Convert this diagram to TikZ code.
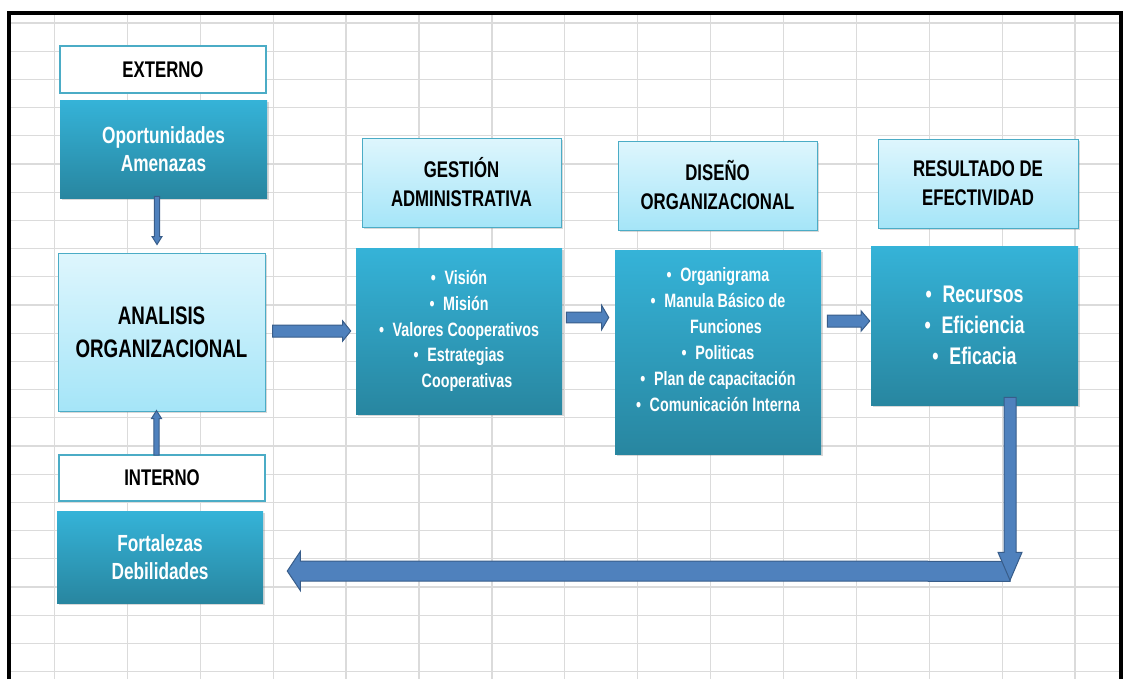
\documentclass[tikz,border=0pt]{standalone}
\usepackage{fontspec}
\setmainfont{Liberation Sans}[FakeStretch=0.74]
\usetikzlibrary{calc}
\usetikzlibrary{shadows}

% block arrow: tail, tip, half shaft, half head, head length
\newcommand{\blockarrow}[5]{%
  \coordinate (ba-base) at ($(#2)!#5!(#1)$);
  \filldraw[arrowbody] ($(#1)!#3!90:(#2)$) -- ($(ba-base)!#3!-90:(#1)$) -- ($(ba-base)!#4!-90:(#1)$) -- (#2)
    -- ($(ba-base)!#4!90:(#1)$) -- ($(ba-base)!#3!90:(#1)$) -- ($(#1)!#3!-90:(#2)$) -- cycle;
}

\begin{document}
\begin{tikzpicture}[line cap=butt,line join=miter,x=0.75pt,y=-0.75pt]
\definecolor{gridgray}{rgb}{0.86,0.86,0.86}
\definecolor{tealtop}{RGB}{53,179,216}
\definecolor{tealbot}{RGB}{40,134,160}
\definecolor{paletop}{RGB}{222,246,253}
\definecolor{palebot}{RGB}{165,229,248}
\definecolor{tealline}{RGB}{75,172,198}
\definecolor{arrowfill}{RGB}{79,129,189}
\definecolor{arrowline}{RGB}{56,93,138}
\tikzset{
  gridline/.style={color=gridgray,line width=1pt},
  boxshadow/.style={drop shadow={shadow xshift=1.2pt,shadow yshift=-1.8pt,opacity=0.3}},
  darkbox/.style={top color=tealtop,bottom color=tealbot,draw=none,text=white,align=center,inner sep=0pt,boxshadow},
  palebox/.style={top color=paletop,bottom color=palebot,draw=tealline,line width=0.75pt,align=center,inner sep=0pt,boxshadow},
  whitebox/.style={fill=white,draw=tealline,line width=1.5pt,align=center,inner sep=0pt},
  headtext/.style={font=\fontsize{17}{21.75}\selectfont\bfseries},
  sidetext/.style={font=\fontsize{17.5}{21}\selectfont\bfseries},
  bigtext/.style={font=\fontsize{19}{24.75}\selectfont\bfseries},
  listtext/.style={font=\fontsize{14.5}{19.4}\selectfont\bfseries},
  restext/.style={font=\fontsize{18}{23.25}\selectfont\bfseries},
  arrowbody/.style={fill=arrowfill,draw=arrowline,line width=0.75pt}
}
\useasboundingbox (0,0) rectangle (1123,679);
\fill[white] (0,0) rectangle (1123,679);
% sheet grid
\foreach \i in {0,...,14}
  \draw[gridline] ({54.5+72.9*\i},12.5) -- ({54.5+72.9*\i},679);
\foreach \j in {0,...,23}
  \draw[gridline] (9,{23+28.2*\j}) -- (1121,{23+28.2*\j});
\draw[line width=3pt] (9,679) -- (9,12.5) -- (1121,12.5) -- (1121,679);
% left column
\node[whitebox,headtext,minimum width=154.5pt,minimum height=35.25pt] (externo) at (163,69.5) {EXTERNO};
\node[darkbox,sidetext,minimum width=155.25pt,minimum height=73.5pt] (oportunidades) at (163.5,149) {Oportunidades\\Amenazas};
\node[palebox,bigtext,minimum width=155.25pt,minimum height=118.5pt] (analisis) at (161.5,332) {ANALISIS\\ORGANIZACIONAL};
\node[whitebox,headtext,minimum width=154.5pt,minimum height=34.5pt] (interno) at (162,478) {INTERNO};
\node[darkbox,sidetext,minimum width=154.5pt,minimum height=69pt] (fortalezas) at (160,557) {Fortalezas\\Debilidades};
% headers
\node[palebox,headtext,minimum width=149.25pt,minimum height=66.75pt] (gestion) at (461.5,182.5) {GESTIÓN\\ADMINISTRATIVA};
\node[palebox,headtext,minimum width=149.25pt,minimum height=66.75pt] (diseno) at (717.5,185.5) {DISEÑO\\ORGANIZACIONAL};
\node[palebox,headtext,minimum width=150pt,minimum height=66.75pt] (resultado) at (978,183.5) {RESULTADO DE\\EFECTIVIDAD};
% lists
\node[darkbox,listtext,minimum width=154.5pt,minimum height=124.5pt] (gestionlist) at (459,331)
  {\textbullet\hspace{0.45em}Visión\\\textbullet\hspace{0.45em}Misión\\\textbullet\hspace{0.45em}Valores Cooperativos\\\textbullet\hspace{0.45em}Estrategias\\\hspace*{12pt}Cooperativas};
\node[darkbox,minimum width=154.5pt,minimum height=153pt] (disenolist) at (718,352) {};
\node[listtext,text=white,align=center,inner sep=0pt] (disenotext) at (718,339.5)
  {\textbullet\hspace{0.45em}Organigrama\\\textbullet\hspace{0.45em}Manula Básico de\\\hspace*{12pt}Funciones\\\textbullet\hspace{0.45em}Politicas\\\textbullet\hspace{0.45em}Plan de capacitación\\\textbullet\hspace{0.45em}Comunicación Interna};
\node[darkbox,restext,minimum width=155.25pt,minimum height=119.25pt] (resultadolist) at (974.5,325.5)
  {\textbullet\hspace{0.45em}Recursos\\\textbullet\hspace{0.45em}Eficiencia\\\textbullet\hspace{0.45em}Eficacia};
% arrows
\coordinate (a1) at ($(analisis.east)+(7,-1)$);
\coordinate (a2) at ($(gestionlist.west)+(-5,0)$);
\coordinate (b1) at ($(gestionlist.east)+(4,-13.5)$);
\coordinate (b2) at ($(disenolist.west)+(-6,-34.5)$);
\coordinate (c1) at ($(disenolist.east)+(6,-31)$);
\coordinate (c2) at ($(resultadolist.west)+(-1,-4.5)$);
\coordinate (d1) at ($(oportunidades.south)+(-6.5,-2)$);
\coordinate (d2) at ($(analisis.north)+(-4.5,-8)$);
\coordinate (e1) at ($(interno.north)+(-5.5,1)$);
\coordinate (e2) at ($(analisis.south)+(-5,-1)$);
\coordinate (f1) at ($(resultadolist.south)+(35.5,-8)$);
\coordinate (bend) at ($(resultadolist.south)+(35.5,175)$);
\coordinate (g1) at ($(bend)+(0,-9)$);
\coordinate (g2) at ($(fortalezas.east)+(24,14)$);
\blockarrow{a1}{a2}{4.5pt}{7.5pt}{6pt}
\blockarrow{b1}{b2}{4.1pt}{9pt}{5.25pt}
\blockarrow{c1}{c2}{4.5pt}{7.5pt}{6.4pt}
\blockarrow{d1}{d2}{1.9pt}{3.75pt}{6pt}
\blockarrow{e1}{e2}{1.9pt}{3.75pt}{6pt}
\blockarrow{g1}{g2}{7.5pt}{14.6pt}{9.75pt}
\blockarrow{f1}{bend}{4.5pt}{9pt}{21pt}
\end{tikzpicture}
\end{document}
